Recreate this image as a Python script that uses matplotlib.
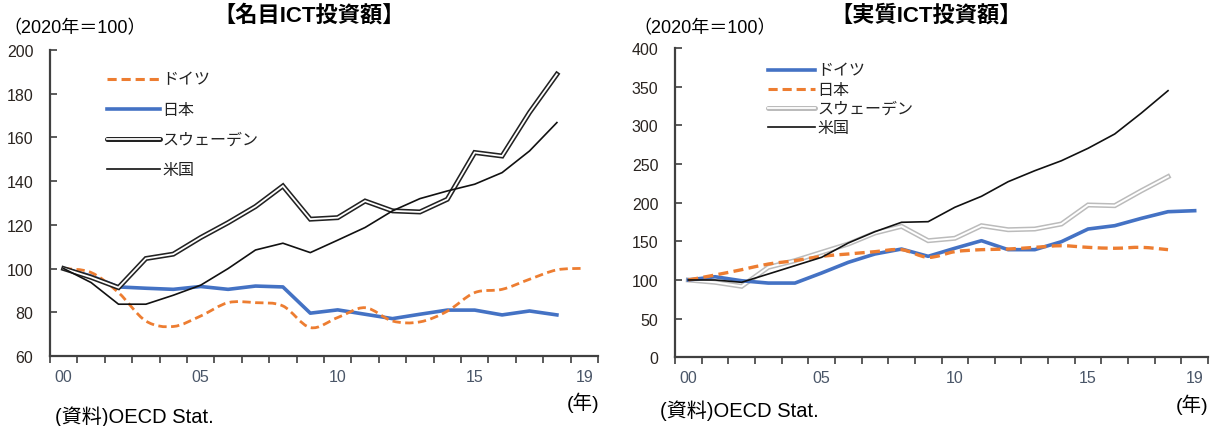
import matplotlib
matplotlib.use("Agg")
import matplotlib.pyplot as plt
import numpy as np
from matplotlib.path import Path
from matplotlib.patches import PathPatch

plt.rcParams['font.family'] = ['Liberation Sans', 'Noto Sans CJK JP']

years = list(range(2000, 2020))
xlabels = ["00", "05", "10", "15", "19"]
xlabel_pos = [0, 5, 10, 15, 19]

# nominal ICT investment (index)
nom_de = [100, 98.2, 89, 76, 73.5, 78.3, 84.4, 84.4, 82.9, 73, 77.6, 82.1, 76, 75.6, 80.5, 89, 90.5, 95.1, 99.4, 100.1]
nom_jp = [100, 96.6, 91.6, 91, 90.5, 91.8, 90.5, 92, 91.6, 79.6, 81.1, 79.1, 77.1, 79.1, 81, 81, 78.8, 80.6, 78.8]
nom_se = [100, 96, 91.3, 104.6, 106.6, 114.2, 121, 128.4, 137.8, 122.6, 123.3, 130.9, 126.4, 125.9, 131.7, 153.1, 151.5, 171.4, 188.9]
nom_us = [100, 93.6, 83.7, 83.7, 87.8, 92.4, 100, 108.5, 111.6, 107.3, 113, 118.8, 126.4, 132, 135.5, 138.6, 143.9, 153.8, 166.8]

# real ICT investment (index)
real_de = [100, 104.2, 99, 96, 96, 109, 122.8, 133.6, 140, 130.6, 141, 150.8, 139.2, 139.2, 149.5, 165.9, 170.2, 179.7, 188.3, 189.6]
real_jp = [100, 106.4, 113.3, 120.6, 125, 130.6, 133.6, 136.6, 139.2, 129.3, 136.6, 139.2, 140, 142.2, 144.3, 142.2, 141, 142.2, 139.2]
real_se = [100, 97, 91.8, 116.4, 125, 135.8, 146.5, 160.7, 169.4, 150.8, 153.9, 170.2, 165, 165.9, 172.4, 197, 196.1, 215.4, 233.6]
real_us = [100, 100, 97, 107.7, 118.5, 129.3, 147.8, 162.4, 174.6, 175.4, 194, 208.2, 227.1, 241.3, 254.2, 270.3, 288.8, 315.9, 344.8]

ORANGE = "#ED7D31"
BLUE = "#4472C4"
SPINE = "#404040"


def smooth_path(x, y):
    # bezier through the points, like a spreadsheet "smoothed line"
    p = np.column_stack([x, y]).astype(float)
    verts = [p[0]]
    codes = [Path.MOVETO]
    n = len(p)
    for i in range(n - 1):
        p0 = p[i - 1] if i > 0 else p[i]
        p3 = p[i + 2] if i + 2 < n else p[i + 1]
        c1 = p[i] + (p[i + 1] - p0) / 6.0
        c2 = p[i + 1] - (p3 - p[i]) / 6.0
        verts += [c1, c2, p[i + 1]]
        codes += [Path.CURVE4] * 3
    return Path(verts, codes)


def dashed_smooth(ax, vals, color, lw):
    x = np.arange(len(vals))
    patch = PathPatch(smooth_path(x, vals), facecolor="none", edgecolor=color,
                      lw=lw, linestyle=(0, (3, 1.6)), capstyle="butt", zorder=3)
    ax.add_patch(patch)


def double_line(ax, vals, outer, lw_out, lw_in, z=4):
    x = np.arange(len(vals))
    ax.plot(x, vals, color=outer, lw=lw_out, solid_joinstyle="miter", zorder=z)
    ax.plot(x, vals, color="white", lw=lw_in, solid_joinstyle="miter", zorder=z)


def style_axes(ax, ylim, yticks):
    ax.set_xlim(-0.5, 19.5)
    ax.set_ylim(*ylim)
    ax.set_yticks(yticks)
    ax.set_xticks(np.arange(-0.5, 20, 1.0))
    ax.set_xticklabels([])
    ax.set_xticks(xlabel_pos, minor=True)
    ax.set_xticklabels(xlabels, minor=True)
    ax.tick_params(axis="x", which="major", direction="out", length=5, width=1.2, color=SPINE)
    ax.tick_params(axis="x", which="minor", length=0, pad=9, labelsize=11.5, labelcolor="#4a5668")
    ax.tick_params(axis="y", direction="in", length=5, width=1.2, color=SPINE, pad=12,
                   labelsize=11.5, labelcolor="#2a2420")
    for s in ["top", "right"]:
        ax.spines[s].set_visible(False)
    for s in ["left", "bottom"]:
        ax.spines[s].set_color(SPINE)
        ax.spines[s].set_linewidth(1.6)


def legend_row(ax, x0, x1, y, label, kind, color):
    t = ax.transAxes
    if kind == "dash":
        ax.plot([x0, x1], [y, y], color=color, lw=2.2, ls=(0, (3, 1.6)), transform=t, clip_on=False)
    elif kind == "solid":
        ax.plot([x0, x1], [y, y], color=color, lw=2.6, transform=t, clip_on=False)
    elif kind == "double":
        ax.plot([x0, x1], [y, y], color=color, lw=3.6, transform=t, clip_on=False,
                solid_capstyle="round")
        ax.plot([x0, x1], [y, y], color="white", lw=1.3, transform=t, clip_on=False)
    else:
        ax.plot([x0, x1], [y, y], color=color, lw=1.2, transform=t, clip_on=False)
    ax.text(x1 + 0.005, y, label, transform=t, va="center", ha="left", fontsize=11.5, color="#222222")


fig = plt.figure(figsize=(12.11, 4.27), dpi=100)

# nominal
ax1 = fig.add_axes([50 / 1211, 1 - 357 / 427, 548 / 1211, 306 / 427])
style_axes(ax1, (60, 200), range(60, 201, 20))
double_line(ax1, nom_se, "#222222", 3.6, 1.3)
ax1.plot(np.arange(len(nom_us)), nom_us, color="#111111", lw=1.2, zorder=4)
ax1.plot(np.arange(len(nom_jp)), nom_jp, color=BLUE, lw=2.6, zorder=3)
dashed_smooth(ax1, nom_de, ORANGE, 2.0)

legend_row(ax1, 0.104, 0.200, 0.905, "ドイツ", "dash", ORANGE)
legend_row(ax1, 0.104, 0.200, 0.807, "日本", "solid", BLUE)
legend_row(ax1, 0.104, 0.200, 0.709, "スウェーデン", "double", "#222222")
legend_row(ax1, 0.104, 0.200, 0.611, "米国", "thin", "#111111")

# real
ax2 = fig.add_axes([675 / 1211, 1 - 358.3 / 427, 533 / 1211, 309.3 / 427])
style_axes(ax2, (0, 400), range(0, 401, 50))
ax2.plot(np.arange(len(real_us)), real_us, color="#111111", lw=1.2, zorder=4)
double_line(ax2, real_se, "#BBBBBB", 3.6, 1.4, z=3)
ax2.plot(np.arange(len(real_de)), real_de, color=BLUE, lw=2.6, zorder=3)
dashed_smooth(ax2, real_jp, ORANGE, 2.4)

legend_row(ax2, 0.174, 0.262, 0.929, "ドイツ", "solid", BLUE)
legend_row(ax2, 0.174, 0.262, 0.867, "日本", "dash", ORANGE)
legend_row(ax2, 0.174, 0.262, 0.806, "スウェーデン", "double", "#BBBBBB")
legend_row(ax2, 0.174, 0.262, 0.744, "米国", "thin", "#111111")

# titles and notes
fig.text(309 / 1211, 1 - 16 / 427, "【名目ICT投資額】", ha="center", va="center", fontsize=16, fontweight="bold")
fig.text(926 / 1211, 1 - 16 / 427, "【実質ICT投資額】", ha="center", va="center", fontsize=16, fontweight="bold")
fig.text(3 / 1211, 1 - 29 / 427, "（2020年＝100）", ha="left", va="center", fontsize=13)
fig.text(633 / 1211, 1 - 29 / 427, "（2020年＝100）", ha="left", va="center", fontsize=13)
fig.text(567 / 1211, 1 - 403 / 427, "(年)", ha="left", va="center", fontsize=14)
fig.text(1176 / 1211, 1 - 405 / 427, "(年)", ha="left", va="center", fontsize=14)
fig.text(55 / 1211, 1 - 417 / 427, "(資料)OECD Stat.", ha="left", va="center", fontsize=14.5)
fig.text(660 / 1211, 1 - 411 / 427, "(資料)OECD Stat.", ha="left", va="center", fontsize=14.5)

fig.savefig("out.png", dpi=100)
